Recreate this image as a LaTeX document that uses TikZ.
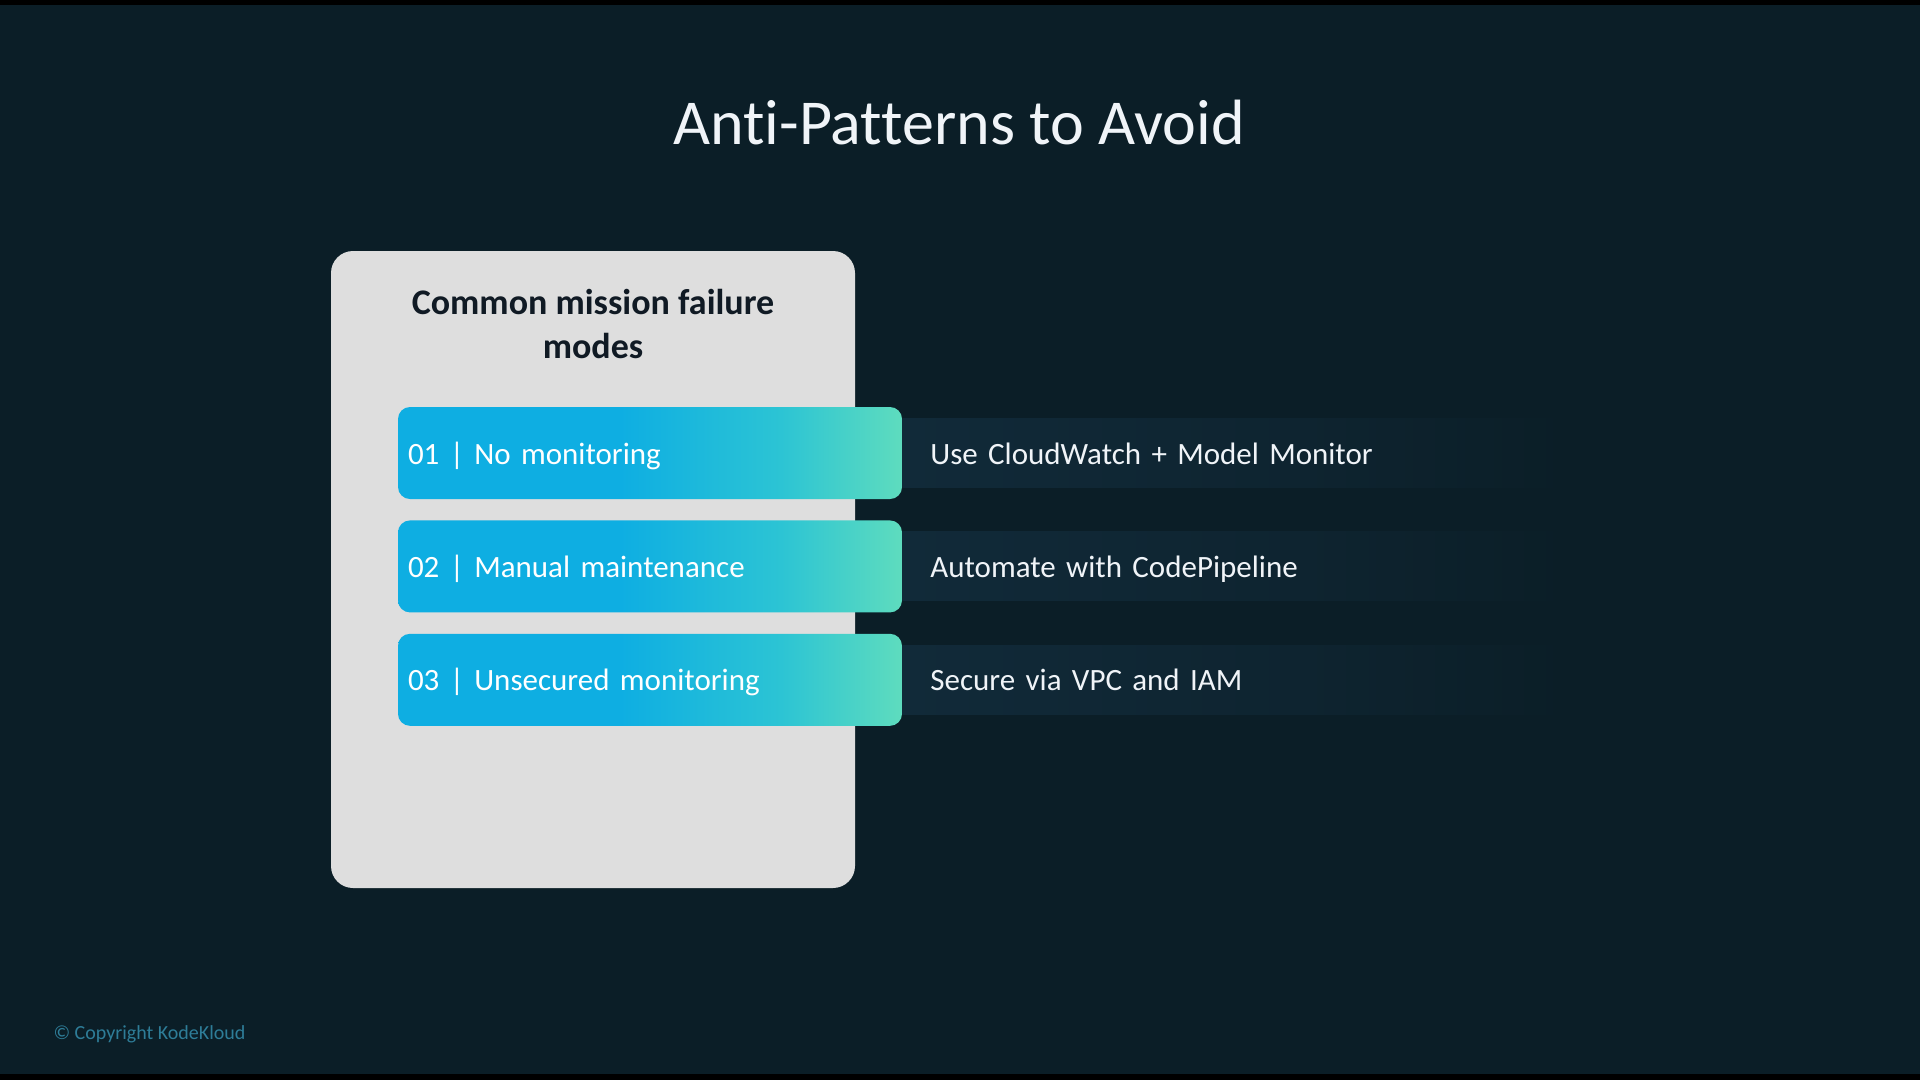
\documentclass[tikz,border=0pt]{standalone}
\usepackage{fontspec}
\setmainfont{Carlito}[Ligatures=NoCommon]
\usepackage{xcolor}
\usetikzlibrary{positioning, shadings}
\definecolor{pagebg}{RGB}{11, 30, 39}
\definecolor{cardgray}{RGB}{222, 222, 222}
\definecolor{inkdark}{RGB}{16, 26, 36}
\definecolor{rowblue}{RGB}{14, 174, 226}
\definecolor{rowteal}{RGB}{44, 196, 212}
\definecolor{rowmint}{RGB}{94, 220, 190}
\definecolor{bandtint}{RGB}{17, 42, 57}
\definecolor{bandmid}{RGB}{14, 36, 48}
\definecolor{copyteal}{RGB}{46, 125, 152}
\definecolor{softwhite}{RGB}{240, 244, 248}
\pgfdeclarehorizontalshading{rowfade}{100bp}{color(0bp)=(rowblue); color(25bp)=(rowblue); color(47bp)=(rowblue); color(63bp)=(rowteal); color(75bp)=(rowmint); color(100bp)=(rowmint)}
\pgfdeclarehorizontalshading{bandfade}{100bp}{color(0bp)=(bandtint); color(25bp)=(bandtint); color(55bp)=(bandmid); color(75bp)=(pagebg); color(100bp)=(pagebg)}

\begin{document}
\begin{tikzpicture}[
    x=1pt, y=-1pt,
    node distance=21pt,
    card/.style={rectangle, fill=cardgray, rounded corners=22pt, minimum width=524pt, minimum height=637pt},
    fault/.style={rectangle, rounded corners=12pt, shading=rowfade, minimum width=504pt, minimum height=92pt, text width=484pt, inner xsep=10pt, align=left, text=white, text height=28pt, text depth=6pt, font=\fontsize{31}{37}\selectfont},
    fix/.style={rectangle, shading=bandfade, minimum width=665pt, minimum height=69pt, text width=609pt, inner xsep=28pt, align=left, text=softwhite, text height=28pt, text depth=6pt, font=\fontsize{31}{37}\selectfont}
]

    \useasboundingbox (0,0) rectangle (1920,1080);
    \fill[pagebg] (0,0) rectangle (1920,1080);
    \fill[black] (0,0) rectangle (1920,5);
    \fill[black] (0,1074) rectangle (1920,1080);

    \node[anchor=base, text=softwhite, font=\fontsize{64}{76}\selectfont] (title) at (959,144) {Anti-Patterns to Avoid};

    \node[card] (panel) at (593,569.5) {};
    \node[anchor=base, align=center, text=inkdark, font=\fontsize{36}{44}\selectfont\bfseries] (head) at (593,358) {Common mission failure\\modes};

    \node[fault] (nomon) at (650,453) {01 | No monitoring};
    \node[fault, below=of nomon] (manual) {02 | Manual maintenance};
    \node[fault, below=of manual] (unsec) {03 | Unsecured monitoring};

    \node[fix, right=0pt of nomon] (watch) {Use CloudWatch + Model Monitor};
    \node[fix, right=0pt of manual] (pipe) {Automate with CodePipeline};
    \node[fix, right=0pt of unsec] (vpc) {Secure via VPC and IAM};

    \node[anchor=base west, text=copyteal, font=\fontsize{20}{24}\selectfont] (copy) at (50,1039) {© Copyright KodeKloud};

\end{tikzpicture}
\end{document}
